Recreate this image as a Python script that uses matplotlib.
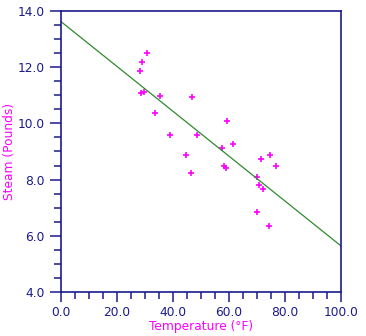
import matplotlib
matplotlib.use('Agg')
import matplotlib.pyplot as plt
import numpy as np
from matplotlib.ticker import MultipleLocator, FormatStrFormatter

# temperature (F) and steam used (pounds)
temperature = [35.3, 29.7, 30.8, 58.8, 61.4, 71.3, 74.4, 76.7, 70.7, 57.5,
               46.4, 28.9, 28.1, 39.1, 46.8, 48.5, 59.3, 70.0, 70.0, 74.5,
               72.1, 58.1, 44.6, 33.4, 28.6]
steam = [10.98, 11.13, 12.51, 8.40, 9.27, 8.73, 6.36, 8.50, 7.82, 9.14,
         8.24, 12.19, 11.88, 9.57, 10.94, 9.58, 10.09, 8.11, 6.83, 8.88,
         7.68, 8.47, 8.86, 10.36, 11.08]

navy = '#1a1a8c'
mag = '#ff00ff'

fig = plt.figure(figsize=(3.66, 3.36), dpi=100)
ax = fig.add_axes([61/366, 44/336, 280/366, 281/336])

ax.plot(temperature, steam, '+', color=mag, markersize=5, markeredgewidth=1.2)

# least squares line
slope, intercept = np.polyfit(temperature, steam, 1)
xs = np.array([0.0, 100.0])
ax.plot(xs, intercept + slope * xs, color='#2e8b2e', linewidth=0.9)

ax.set_xlim(0, 100)
ax.set_ylim(4, 14)
ax.xaxis.set_major_locator(MultipleLocator(20))
ax.xaxis.set_minor_locator(MultipleLocator(5))
ax.yaxis.set_major_locator(MultipleLocator(2))
ax.yaxis.set_minor_locator(MultipleLocator(0.5))
ax.xaxis.set_major_formatter(FormatStrFormatter('%.1f'))
ax.yaxis.set_major_formatter(FormatStrFormatter('%.1f'))

for s in ax.spines.values():
    s.set_color(navy)
    s.set_linewidth(1.2)
ax.tick_params(which='major', direction='out', length=7, width=1.1,
               color=navy, labelcolor=navy, labelsize=8.8, pad=3)
ax.tick_params(which='minor', direction='out', length=5, width=1.1, color=navy)
ax.tick_params(axis='y', which='major', length=8, pad=4)
ax.tick_params(axis='y', which='minor', length=5)
ax.tick_params(top=False, right=False, which='both')

ax.set_xlabel('Temperature (°F)', color=mag, fontsize=8.8, labelpad=1)
ax.set_ylabel('Steam (Pounds)', color=mag, fontsize=8.8)
ax.yaxis.set_label_coords(-0.162, 0.5)

fig.savefig('out.png', dpi=100, facecolor='white')
